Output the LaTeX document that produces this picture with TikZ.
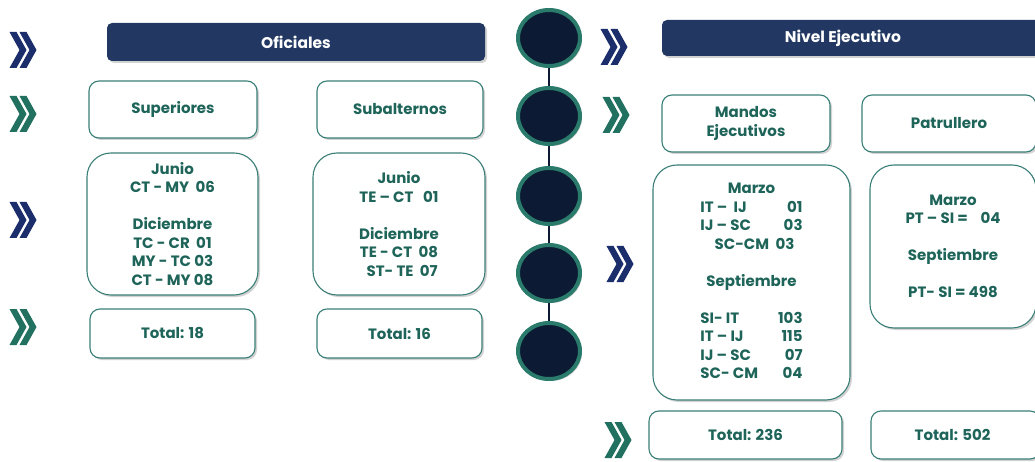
\documentclass[tikz,border=0pt]{standalone}
\usepackage{fontspec}
\setmainfont{Poppins}
\usetikzlibrary{shapes.geometric,shadows}
\definecolor{bannav}{HTML}{223862}
\definecolor{chnav}{HTML}{1B2E6B}
\definecolor{chteal}{HTML}{217060}
\definecolor{circfill}{HTML}{0C1B33}
\definecolor{circline}{HTML}{2A7B6B}
\definecolor{txt}{HTML}{1E6459}
\definecolor{boxc}{HTML}{3A7F77}
\tikzset{
  shad/.style={drop shadow={shadow xshift=2pt, shadow yshift=-2pt, opacity=0.35, fill=gray}},
  box/.style={draw=boxc, line width=1.1pt, fill=white, rounded corners=10pt, text=txt,
    font=\bfseries\fontsize{15}{18.5}\selectfont, align=center, inner sep=0pt, shad},
  databox/.style={box, rounded corners=24pt},
  banner/.style={fill=bannav, rounded corners=5pt, text=white,
    font=\bfseries\fontsize{15.5}{18}\selectfont, inner sep=0pt, shad},
  dot/.style={ellipse, draw=circline, line width=4pt, fill=circfill,
    minimum width=62pt, minimum height=56pt, shad},
  link/.style={draw=circfill, line width=2.5pt},
  chev/.pic={
    \path[pic actions] (-13.5,-18) -- (-6.5,-18) -- (3.5,0) -- (-6.5,18) -- (-13.5,18) -- (-3.5,0) -- cycle;
    \path[pic actions] (-3.5,-18) -- (3.5,-18) -- (13.5,0) -- (3.5,18) -- (-3.5,18) -- (6.5,0) -- cycle;
  }
}
\begin{document}
\begin{tikzpicture}[x=1pt,y=-1pt]
\useasboundingbox (0,0) rectangle (1035,462);
\clip (0,0) rectangle (1035,462);
\fill[white] (0,0) rectangle (1035,462);

% timeline
\node[dot] (c1) at (549,38) {};
\node[dot] (c2) at (549,116) {};
\node[dot] (c3) at (549,196) {};
\node[dot] (c4) at (549,273) {};
\node[dot] (c5) at (549,351) {};
\draw[link] (c1.south) -- (c2.north);
\draw[link] (c2.south) -- (c3.north);
\draw[link] (c3.south) -- (c4.north);
\draw[link] (c4.south) -- (c5.north);

% chevrons
\pic[fill=chnav, shad] at (23,50) {chev};
\pic[fill=chteal, shad] at (23,114) {chev};
\pic[fill=chnav, shad] at (23,220) {chev};
\pic[fill=chteal, shad] at (23,327) {chev};
\pic[fill=chnav, shad] at (614,47) {chev};
\pic[fill=chteal, shad] at (616,115) {chev};
\pic[fill=chnav, shad] at (620,264) {chev};
\pic[fill=chteal, shad] at (618,440) {chev};

% Oficiales
\node[banner, minimum width=378pt, minimum height=38pt] (ofi) at (296,42) {Oficiales};
\node[box, minimum width=168pt, minimum height=57pt] (sup) at (173,109.5) {Superiores};
\node[box, minimum width=166pt, minimum height=57pt] (sub) at (400,109.5) {Subalternos};
\node[databox, minimum width=171pt, minimum height=142pt] (supd) at (172.5,224)
  {Junio\\CT - MY\ \ 06\\[18.5pt]Diciembre\\TC - CR\ \ 01\\MY - TC 03\\CT - MY 08};
\node[databox, minimum width=172pt, minimum height=142pt] (subd) at (399,224)
  {Junio\\TE -- CT\ \ \ 01\\[18.5pt]Diciembre\\TE - CT\ \ 08\\\ \ ST- TE\ \ 07};
\node[box, minimum width=165pt, minimum height=49pt] (supt) at (172.5,333.5) {Total: 18};
\node[box, minimum width=165pt, minimum height=49pt] (subt) at (399.5,333.5) {Total: 16};

% Nivel Ejecutivo
\node[banner, minimum width=378pt, minimum height=36pt] (niv) at (851,38) {\hspace*{-8pt}Nivel Ejecutivo\hspace*{8pt}};
\node[box, minimum width=168pt, minimum height=57pt] (man) at (746,123.5) {Mandos\\Ejecutivos};
\node[box, minimum width=174pt, minimum height=57pt] (pat) at (949,123.5) {Patrullero};
\node[databox, minimum width=197pt, minimum height=235pt] (mand) at (751.5,282.5)
  {\begin{tabular}{@{}l@{\hspace{12pt}}r@{}}
   \multicolumn{2}{c}{Marzo}\\
   IT --\ \ IJ & 01\\
   IJ -- SC & 03\\
   \multicolumn{2}{c}{\hspace*{6pt}SC-CM\ \ 03}\\[18.5pt]
   \multicolumn{2}{c}{Septiembre}\\[18.5pt]
   SI- IT & 103\\
   IT -- IJ & 115\\
   IJ -- SC & 07\\
   SC- CM & 04
   \end{tabular}};
\node[databox, minimum width=166pt, minimum height=163pt] (patd) at (953,246.5)
  {Marzo\\PT -- SI =\ \ \ \ 04\\[18.5pt]Septiembre\\[18.5pt]PT- SI = 498};
\node[box, minimum width=193pt, minimum height=48pt] (mant) at (745.5,435) {Total: 236};
\node[box, minimum width=169pt, minimum height=48pt] (patt) at (955.5,435) {\hspace*{-6pt}Total: 502};
\end{tikzpicture}
\end{document}
